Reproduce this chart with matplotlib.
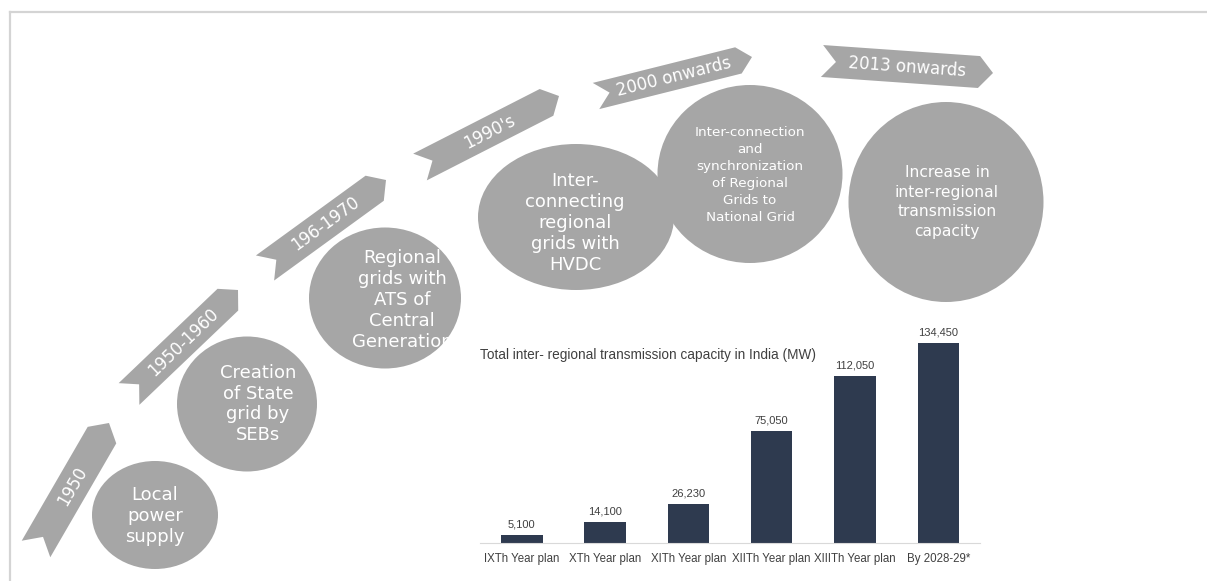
import math
import matplotlib
matplotlib.use("Agg")
import matplotlib.pyplot as plt
from matplotlib.patches import Polygon, Ellipse
import numpy as np

# bar chart data
plans = ["IXTh Year plan", "XTh Year plan", "XITh Year plan",
         "XIITh Year plan", "XIIITh Year plan", "By 2028-29*"]
capacity = [5100, 14100, 26230, 75050, 112050, 134450]
chart_title = "Total inter- regional transmission capacity in India (MW)"

# timeline text
periods = ["1950", "1950-1960", "196-1970", "1990's", "2000 onwards", "2013 onwards"]
milestones = ["Local\npower\nsupply",
              "Creation\nof State\ngrid by\nSEBs",
              "Regional\ngrids with\nATS of\nCentral\nGeneration",
              "Inter-\nconnecting\nregional\ngrids with\nHVDC",
              "Inter-connection\nand\nsynchronization\nof Regional\nGrids to\nNational Grid",
              "Increase in\ninter-regional\ntransmission\ncapacity"]

# layout (pixels, y down): arrow tail centre, tip, width
arrows = [((36, 549), (109, 423), 33),
          ((129, 394), (238, 290), 30),
          ((265, 268), (386, 180), 31),
          ((420, 167), (559, 96), 30),
          ((596, 96), (752, 57), 27),
          ((822, 61), (993, 73), 32)]
# ellipse centre, w, h, text centre, font size, line spacing
bubbles = [((155, 515), 126, 108, (155, 516), 13, 1.2),
           ((247, 404), 140, 135, (258, 404), 13, 1.2),
           ((385, 298), 152, 141, (402, 300), 13, 1.2),
           ((576, 217), 196, 146, (575, 223), 13, 1.2),
           ((750, 174), 185, 178, (750, 175), 9.7, 1.4),
           ((946, 202), 195, 200, (947, 202), 11.2, 1.4)]

GRAY = "#a6a6a6"
NAVY = "#2e3a4f"
TXT = "#404040"

fig = plt.figure(figsize=(12.07, 5.81), dpi=100)
bg = fig.add_axes([0, 0, 1, 1])
bg.set_xlim(0, 1207)
bg.set_ylim(581, 0)
bg.axis("off")

# frame lines
bg.plot([10, 1207], [12, 12], color="#d4d4d4", lw=1.6)
bg.plot([10, 10], [12, 581], color="#d4d4d4", lw=1.6)

head = 14
for (tail, tip, w), label in zip(arrows, periods):
    t = np.array(tail, float)
    p = np.array(tip, float)
    u = (p - t) / np.linalg.norm(p - t)
    v = np.array([-u[1], u[0]])
    pts = [t + w / 2 * v, p - head * u + w / 2 * v, p,
           p - head * u - w / 2 * v, t - w / 2 * v, t + head * u]
    bg.add_patch(Polygon(pts, closed=True, color=GRAY, lw=0))
    ang = math.degrees(math.atan2(-u[1], u[0]))
    mid = (t + p) / 2
    bg.text(mid[0], mid[1], label, color="white", fontsize=12, rotation=ang,
            rotation_mode="anchor", ha="center", va="center")

for (c, w, h, tc, fs, ls), label in zip(bubbles, milestones):
    bg.add_patch(Ellipse(c, w, h, color=GRAY, lw=0))
    bg.text(tc[0], tc[1], label, color="white", fontsize=fs, ha="center",
            va="center", multialignment="center", linespacing=ls)

# bar chart
ax = fig.add_axes([480 / 1207, 1 - 543 / 581, 500 / 1207, 223.1 / 581])
x = np.arange(len(plans))
bars = ax.bar(x, capacity, width=0.5, color=NAVY)
ax.bar_label(bars, labels=[f"{v:,}" for v in capacity], padding=4,
             fontsize=8, color=TXT, family="Liberation Sans")
ax.set_xlim(-0.5, len(plans) - 0.5)
ax.set_ylim(0, 150000)
ax.set_xticks(x)
ax.set_xticklabels(plans, fontsize=8.3, color=TXT, family="Liberation Sans")
ax.tick_params(axis="x", length=0, pad=7)
ax.set_yticks([])
for s in ["top", "left", "right"]:
    ax.spines[s].set_visible(False)
ax.spines["bottom"].set_color("#d9d9d9")
ax.patch.set_alpha(0)

fig.text(480 / 1207, 1 - 355 / 581, chart_title, fontsize=9.8, color=TXT,
         family="Liberation Sans", ha="left", va="center")

fig.savefig("out.png", dpi=100)
